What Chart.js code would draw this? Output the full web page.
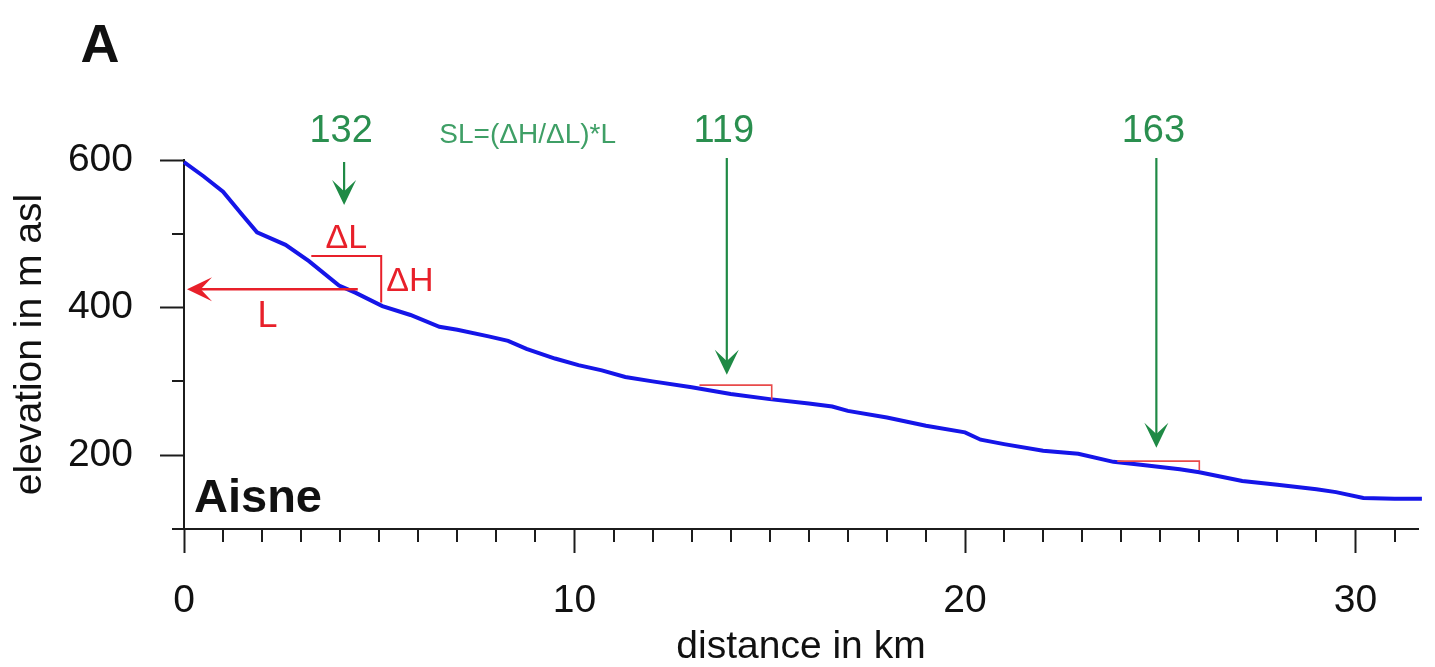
<!DOCTYPE html>
<html>
<head>
<meta charset="utf-8">
<title>Aisne longitudinal profile</title>
<script src="https://cdn.jsdelivr.net/npm/chart.js@4.4.1/dist/chart.umd.min.js"></script>
<style>
  html, body { margin: 0; padding: 0; background: #fff; }
  canvas { display: block; }
</style>
</head>
<body>
<canvas id="profileChart" width="1435" height="667"></canvas>
<script>
// Longitudinal profile of the Aisne: distance downstream (km) vs elevation (m asl)
const distanceKm = [0, 0.5, 1.0, 1.5, 1.87, 2.6, 3.2, 3.97, 4.4, 5.08, 5.8, 6.54, 7.0, 7.8, 8.3, 8.77,
  9.5, 10.1, 10.7, 11.3, 12.0, 13.0, 14.0, 15.0, 16.0, 16.6, 17.0, 18.0, 19.0, 20.0, 20.4, 21.0,
  22.0, 22.9, 23.8, 24.5, 25.5, 26.0, 27.1, 28.0, 29.0, 29.5, 30.2, 31.0, 31.7];
const elevationM = [597, 578, 557, 525, 502, 485, 463, 430, 420, 402, 390, 374, 370, 361, 355, 344,
  331, 322, 315, 306, 300, 292, 283, 276, 270, 266, 260, 251, 240, 231, 221, 215,
  206, 202, 191, 187, 181, 177, 165, 160, 154, 150, 142, 141, 141];

// SL index picks (green arrows)
const slKm = [4.1, 13.9, 24.9];
const slValues = ['132', '119', '163'];
const slArrowTipM = [539, 309, 210];

// dH / dL segments used for each pick (red brackets)
const segStartKm = [3.26, 13.2, 23.9];
const segEndKm = [5.05, 15.05, 26.0];
const segTopM = [470, 295, 192];
const segBottomM = [407, 275, 180];

// distance from the source (L) for the first pick
const lArrowM = 425;
const lArrowFromKm = 4.45;

const xMajorTicks = [0, 10, 20, 30];
const yMajorTicks = [200, 400, 600];

const FONT = '"Liberation Sans", Arial, Helvetica, sans-serif';
const AXIS_COLOR = '#1c1c1c';
const GREEN = '#2a8f4f';
const GREEN_ARROW = '#1f8a45';
const RED = '#e8202a';

function arrowHead(ctx, tipX, tipY, dirX, dirY, len, half) {
  // notched arrow head pointing along (dirX, dirY)
  const nx = -dirY, ny = dirX;
  const bx = tipX - dirX * len, by = tipY - dirY * len;
  const mx = tipX - dirX * len * 0.55, my = tipY - dirY * len * 0.55;
  ctx.beginPath();
  ctx.moveTo(tipX, tipY);
  ctx.lineTo(bx + nx * half, by + ny * half);
  ctx.lineTo(mx, my);
  ctx.lineTo(bx - nx * half, by - ny * half);
  ctx.closePath();
  ctx.fill();
}

// short minor tick marks (major ones come from the grid options)
const minorTicks = {
  id: 'minorTicks',
  afterDraw(chart) {
    const {ctx, scales: {x, y}} = chart;
    ctx.save();
    ctx.strokeStyle = AXIS_COLOR;
    ctx.lineWidth = 2;
    x.ticks.forEach(t => {
      if (xMajorTicks.includes(t.value)) return;
      const px = Math.round(x.getPixelForValue(t.value));
      ctx.beginPath();
      ctx.moveTo(px, x.top);
      ctx.lineTo(px, x.top + 13);
      ctx.stroke();
    });
    y.ticks.forEach(t => {
      if (yMajorTicks.includes(t.value)) return;
      const py = Math.round(y.getPixelForValue(t.value));
      ctx.beginPath();
      ctx.moveTo(y.right, py);
      ctx.lineTo(y.right - 12, py);
      ctx.stroke();
    });
    ctx.restore();
  }
};

// SL annotations: arrows, brackets and labels
const slAnnotations = {
  id: 'slAnnotations',
  afterDatasetsDraw(chart) {
    const {ctx, chartArea, scales: {x, y}} = chart;
    ctx.save();

    // red dH/dL brackets
    segStartKm.forEach((s, i) => {
      const x0 = x.getPixelForValue(s);
      const x1 = x.getPixelForValue(segEndKm[i]);
      const yt = y.getPixelForValue(segTopM[i]);
      const yb = y.getPixelForValue(segBottomM[i]);
      ctx.strokeStyle = i === 0 ? RED : '#e84a4a';
      ctx.lineWidth = i === 0 ? 2 : 1.6;
      ctx.beginPath();
      ctx.moveTo(x0, yt);
      ctx.lineTo(x1, yt);
      ctx.lineTo(x1, yb);
      ctx.stroke();
    });

    // L arrow back to the source
    const ly = y.getPixelForValue(lArrowM);
    const lx0 = x.getPixelForValue(lArrowFromKm);
    const lx1 = x.getPixelForValue(0) + 3;
    ctx.strokeStyle = RED;
    ctx.fillStyle = RED;
    ctx.lineWidth = 2.5;
    ctx.beginPath();
    ctx.moveTo(lx0, ly);
    ctx.lineTo(lx1 + 12, ly);
    ctx.stroke();
    arrowHead(ctx, lx1, ly, -1, 0, 25, 12);

    // red labels around the first bracket
    const bx0 = x.getPixelForValue(segStartKm[0]);
    const bx1 = x.getPixelForValue(segEndKm[0]);
    const byt = y.getPixelForValue(segTopM[0]);
    const byb = y.getPixelForValue(segBottomM[0]);
    ctx.font = '34px ' + FONT;
    ctx.textBaseline = 'middle';
    ctx.textAlign = 'center';
    ctx.fillText('ΔL', (bx0 + bx1) / 2, byt - 17);
    ctx.textAlign = 'left';
    ctx.fillText('ΔH', bx1 + 5, (byt + byb) / 2 + 2);
    ctx.textAlign = 'center';
    ctx.font = '36px ' + FONT;
    ctx.fillText('L', (lx0 + lx1) / 2 - 5, ly + 28);

    // green arrows with SL values
    slKm.forEach((k, i) => {
      const ax = x.getPixelForValue(k);
      const tipY = y.getPixelForValue(slArrowTipM[i]);
      const startY = chartArea.top + (i === 0 ? 2 : -2);
      ctx.strokeStyle = GREEN_ARROW;
      ctx.fillStyle = GREEN_ARROW;
      ctx.lineWidth = 2.2;
      ctx.beginPath();
      ctx.moveTo(ax, startY);
      ctx.lineTo(ax, tipY - 12);
      ctx.stroke();
      arrowHead(ctx, ax, tipY, 0, 1, 25, 12);

      ctx.fillStyle = GREEN;
      ctx.font = '38px ' + FONT;
      ctx.textAlign = 'center';
      ctx.textBaseline = 'middle';
      ctx.fillText(slValues[i], ax - 3, chartArea.top - 28);
    });

    // formula
    ctx.fillStyle = '#3f9f66';
    ctx.font = '28px ' + FONT;
    ctx.textAlign = 'center';
    ctx.fillText('SL=(ΔH/ΔL)*L', x.getPixelForValue(8.8), chartArea.top - 25);

    // river name and panel letter
    ctx.fillStyle = '#111';
    ctx.font = 'bold 47px ' + FONT;
    ctx.textAlign = 'left';
    ctx.textBaseline = 'alphabetic';
    ctx.fillText('Aisne', chartArea.left + 10, chartArea.bottom - 17);
    ctx.font = 'bold 54px ' + FONT;
    ctx.textAlign = 'center';
    ctx.fillText('A', 100, 62);

    ctx.restore();
  }
};

const ctx = document.getElementById('profileChart').getContext('2d');

new Chart(ctx, {
  type: 'line',
  data: {
    datasets: [{
      label: 'Aisne',
      data: distanceKm.map((d, i) => ({x: d, y: elevationM[i]})),
      borderColor: '#1515e8',
      borderWidth: 4,
      pointRadius: 0,
      tension: 0,
      fill: false,
      clip: 6
    }]
  },
  options: {
    responsive: false,
    animation: false,
    layout: {
      padding: {top: 160, right: 17, left: 0, bottom: 0}
    },
    plugins: {
      legend: { display: false },
      tooltip: { enabled: false }
    },
    scales: {
      x: {
        type: 'linear',
        min: 0,
        max: 31.6,
        afterFit: scale => { scale.height = 138; },
        border: { display: true, color: AXIS_COLOR, width: 2 },
        grid: {
          drawOnChartArea: false,
          drawTicks: true,
          tickLength: 24,
          tickWidth: 2,
          tickColor: c => xMajorTicks.includes(c.tick.value) ? AXIS_COLOR : 'rgba(0,0,0,0)'
        },
        ticks: {
          stepSize: 1,
          includeBounds: false,
          autoSkip: false,
          maxRotation: 0,
          padding: 25,
          color: '#111',
          font: { family: FONT, size: 39 },
          callback: v => xMajorTicks.includes(v) ? String(v) : ''
        },
        title: {
          display: true,
          text: 'distance in km',
          color: '#111',
          font: { family: FONT, size: 39, lineHeight: 1 },
          padding: { top: 0, bottom: 0 }
        }
      },
      y: {
        type: 'linear',
        min: 100,
        max: 600,
        afterFit: scale => { scale.width = 184; },
        border: { display: true, color: AXIS_COLOR, width: 2 },
        grid: {
          drawOnChartArea: false,
          drawTicks: true,
          tickLength: 24,
          tickWidth: 2,
          tickColor: c => yMajorTicks.includes(c.tick.value) ? AXIS_COLOR : 'rgba(0,0,0,0)'
        },
        ticks: {
          stepSize: 100,
          autoSkip: false,
          padding: 27,
          color: '#111',
          font: { family: FONT, size: 39 },
          callback: v => yMajorTicks.includes(v) ? String(v) : ''
        },
        title: {
          display: true,
          text: 'elevation in m asl',
          color: '#111',
          font: { family: FONT, size: 39, lineHeight: 1 },
          padding: { top: 11, bottom: 0 }
        }
      }
    }
  },
  plugins: [minorTicks, slAnnotations]
});
</script>
</body>
</html>
